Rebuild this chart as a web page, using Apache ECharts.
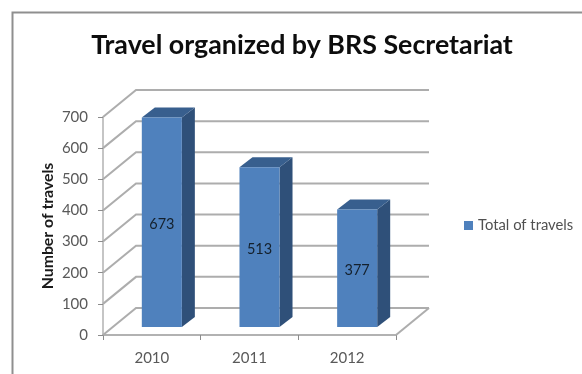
<!DOCTYPE html>
<html>
<head>
<meta charset="utf-8">
<style>html,body{margin:0;padding:0;background:#fff}#chart{width:582px;height:374px}</style>
<script src="https://cdn.jsdelivr.net/npm/echarts@6/dist/echarts.min.js"></script>
</head>
<body>
<div id="chart"></div>
<script>
const years = ['2010', '2011', '2012'];
const totals = [673, 513, 377];
const valueTicks = [0, 100, 200, 300, 400, 500, 600, 700];

// Oblique projection used for the pseudo-3D box, in pixels.
const WALL_DX = 33, WALL_DY = 27;
const BAR_SHIFT_X = 10, BAR_SHIFT_Y = 8;
const BAR_DX = 13, BAR_DY = 10;
const BAR_RATIO = 0.41;

const chart = echarts.init(document.getElementById('chart'), null, { renderer: 'canvas' });

function renderWall(params, api) {
  const v = api.value(0);
  const band = api.size([1, 0])[0];
  const a = api.coord([0, v]);
  const b = api.coord([years.length - 1, v]);
  const x0 = a[0] - band / 2, x1 = b[0] + band / 2, y = a[1];
  const style = { stroke: '#adadad', lineWidth: 2, fill: null };
  const kids = [{
    type: 'polyline',
    shape: { points: [[x0, y], [x0 + WALL_DX, y - WALL_DY], [x1 + WALL_DX, y - WALL_DY]] },
    style
  }];
  if (v === 0) {
    kids.push({
      type: 'line',
      shape: { x1: x1, y1: y, x2: x1 + WALL_DX, y2: y - WALL_DY },
      style
    });
  }
  return { type: 'group', children: kids };
}

function renderBar(params, api) {
  const i = api.value(0), v = api.value(1);
  const band = api.size([1, 0])[0];
  const w = band * BAR_RATIO;
  const top = api.coord([i, v]);
  const base = api.coord([i, 0]);
  const xl = top[0] - w / 2 + BAR_SHIFT_X, xr = xl + w;
  const yt = top[1] - BAR_SHIFT_Y, yb = base[1] - BAR_SHIFT_Y;
  return {
    type: 'group',
    children: [
      {
        type: 'polygon',
        shape: { points: [[xr, yt], [xr + BAR_DX, yt - BAR_DY], [xr + BAR_DX, yb - BAR_DY], [xr, yb]] },
        style: { fill: '#2f5079' }
      },
      {
        type: 'polygon',
        shape: { points: [[xl, yt], [xl + BAR_DX, yt - BAR_DY], [xr + BAR_DX, yt - BAR_DY], [xr, yt]] },
        style: { fill: '#385f8e' }
      },
      {
        type: 'rect',
        shape: { x: xl, y: yt, width: w, height: yb - yt },
        style: { fill: '#4f81bd' }
      },
      {
        type: 'text',
        style: {
          x: (xl + xr) / 2, y: (yt + yb) / 2 + 2,
          text: String(v), align: 'center', verticalAlign: 'middle',
          fill: '#14202c', font: '14.5px Lato'
        }
      }
    ]
  };
}

chart.setOption({
  animation: false,
  backgroundColor: '#fff',
  title: {
    text: 'Travel organized by BRS Secretariat',
    left: 297, top: 27, textAlign: 'center',
    textStyle: { fontFamily: 'Lato', fontWeight: 'bold', fontSize: 26.8, color: '#0d0d0d' }
  },
  legend: {
    left: 464, top: 218, padding: 0,
    itemWidth: 9, itemHeight: 9,
    icon: 'rect',
    data: ['Total of travels'],
    textStyle: { fontFamily: 'Lato', fontSize: 14.8, color: '#505050' }
  },
  grid: { left: 103, right: 186, top: 117, bottom: 39 },
  xAxis: {
    type: 'category',
    data: years,
    axisLine: { lineStyle: { color: '#b2b2b2', width: 2 } },
    axisTick: { show: true, length: 5, lineStyle: { color: '#8c8c8c' } },
    axisLabel: { fontFamily: 'Lato', fontSize: 15, color: '#595959', margin: 16 }
  },
  yAxis: {
    type: 'value',
    min: 0, max: 700, interval: 100,
    name: 'Number of travels',
    nameLocation: 'middle',
    nameGap: 47,
    nameMoveOverlap: false,
    nameTextStyle: { fontFamily: 'Lato', fontWeight: 'bold', fontSize: 15.8, color: '#1a1a1a' },
    axisLine: { show: true, lineStyle: { color: '#b2b2b2', width: 1.5 } },
    axisTick: { show: true, length: 5, lineStyle: { color: '#8c8c8c' } },
    axisLabel: { fontFamily: 'Lato', fontSize: 15, color: '#595959', margin: 15 },
    splitLine: { show: false }
  },
  graphic: [{
    type: 'rect',
    shape: { x: 12.5, y: 12.5, width: 600, height: 400 },
    style: { fill: null, stroke: '#8f8f8f', lineWidth: 2 },
    silent: true
  }],
  series: [
    {
      name: 'Walls',
      type: 'custom',
      silent: true,
      z: 1,
      coordinateSystem: 'cartesian2d',
      renderItem: renderWall,
      encode: { y: 0 },
      data: valueTicks.map(t => [t])
    },
    {
      name: 'Total of travels',
      type: 'custom',
      z: 2,
      coordinateSystem: 'cartesian2d',
      itemStyle: { color: '#4f81bd' },
      renderItem: renderBar,
      encode: { x: 0, y: 1 },
      data: totals.map((v, i) => [i, v])
    }
  ]
});
</script>
</body>
</html>
